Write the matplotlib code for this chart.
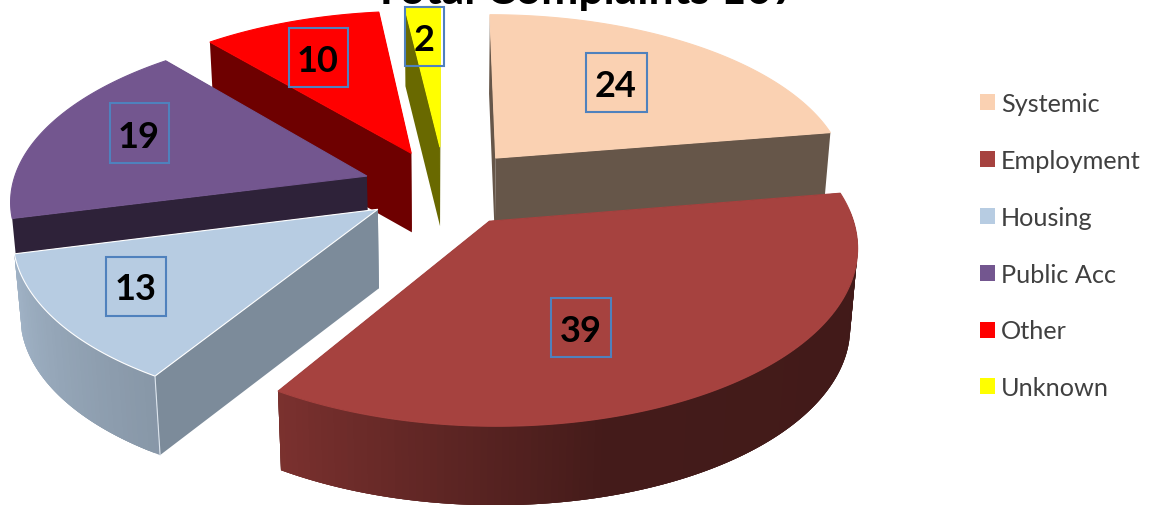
import numpy as np
import matplotlib
matplotlib.use("Agg")
import matplotlib.pyplot as plt
from matplotlib.patches import Patch, Rectangle, Polygon
from matplotlib.colors import to_rgb

categories = ['Systemic', 'Employment', 'Housing', 'Public Acc', 'Other', 'Unknown']
values = [24, 39, 13, 19, 10, 2]
title = 'Total Complaints 107'

# styling per slice
colors = ['#FAD1B2', '#A6423F', '#B7CCE2', '#73568F', '#FF0000', '#FFFF00']
explode = [0.23, 0.23, 0.21, 0.215, 0.23, 0.25]
nudge = [(3, 1), (2, 2), (-2, 2), (-2, 1), (2, 2), (4, 2)]
cut_shade = [0.41, 0.41, 0.68, 0.40, 0.43, 0.41]
label_pos = [(616, 83), (581, 328), (136, 287), (139, 134), (318, 58), (424, 37)]
box_size = [(61, 59), (60, 59), (60, 59), (59, 60), (59, 59), (39, 59)]
draw_order = [5, 4, 0, 3, 2, 1]

# fake 3D projection, everything in pixels
cx, cy = 441, 187
rx, ry = 355, 169
persp = 0.13
depth = 79
shrink = 0.982


def project(u, v, bottom=False, off=(0, 0)):
    s = 1 / (1 - persp * v)
    x = rx * u * s
    y = ry * v * s
    if bottom:
        return cx + off[0] + x * shrink, cy + off[1] + y + depth
    return cx + off[0] + x, cy + off[1] + y


def plane(theta, e, mid):
    # theta clockwise from the top, degrees
    t = np.radians(theta)
    m = np.radians(mid)
    return np.sin(t) + e * np.sin(m), -np.cos(t) - e * np.cos(m)


def shade(c, m):
    return tuple(np.array(to_rgb(c)) * m)


def rim_shade(theta):
    return np.interp(theta, [90, 165, 212, 256], [0.39, 0.41, 0.74, 0.88])


fig = plt.figure(figsize=(11.52, 5.06), dpi=100)
ax = fig.add_axes([0, 0, 1, 1])
ax.set_xlim(0, 1152)
ax.set_ylim(506, 0)
ax.axis('off')

edges = np.concatenate([[0], np.cumsum(values)]) / np.sum(values) * 360

for i in draw_order:
    a0, a1 = edges[i], edges[i + 1]
    mid = (a0 + a1) / 2
    e = explode[i]
    off = nudge[i]
    apex_u = e * np.sin(np.radians(mid))
    apex_v = -e * np.cos(np.radians(mid))

    # the two cut faces
    for a in (a0, a1):
        u, v = plane(a, e, mid)
        c = shade(colors[i], cut_shade[i])
        ax.add_patch(Polygon([project(apex_u, apex_v, off=off), project(u, v, off=off),
                              project(u, v, True, off), project(apex_u, apex_v, True, off)],
                             closed=True, fc=c, ec='none'))

    # outer rim, only the part that faces the viewer, strips overlap to hide seams
    th = np.linspace(a0, a1, int(a1 - a0) + 2)
    front = th[(th >= 85) & (th <= 256)]
    for t0, t1 in zip(front[:-1], front[1:]):
        t2 = min(t1 + 2, front[-1])
        arc = np.linspace(t0, t2, 5)
        u, v = plane(arc, e, mid)
        xt, yt = project(u, v, off=off)
        xb, yb = project(u, v, True, off)
        c = shade(colors[i], rim_shade((t0 + t1) / 2))
        ax.add_patch(Polygon(np.column_stack([np.r_[xt, xb[::-1]], np.r_[yt, yb[::-1]]]),
                             closed=True, fc=c, ec='none'))

    # top face
    uu, vv = plane(th, e, mid)
    xs, ys = project(uu, vv, off=off)
    ax_, ay_ = project(apex_u, apex_v, off=off)
    top = np.column_stack([np.r_[ax_, xs], np.r_[ay_, ys]])
    edge = 'white' if i == 2 else colors[i]
    ax.add_patch(Polygon(top, closed=True, fc=colors[i], ec=edge, lw=0.8))
    if i == 2:
        bx, by = project(uu[0], vv[0], True, off)
        ax.plot([xs[0], bx], [ys[0], by], color='#DDE5EE', lw=0.8)

# value labels in their boxes
for val, (lx, ly), (bw, bh) in zip(values, label_pos, box_size):
    ax.add_patch(Rectangle((lx - bw / 2, ly - bh / 2), bw, bh, fill=False, ec='#4F81BD', lw=1.5))
    ax.text(lx, ly, str(val), ha='center', va='center_baseline', fontsize=26,
            fontweight='bold', family='Lato', color='black')

# title runs off the top edge like the original
ax.text(585, 4, title, ha='center', va='baseline', fontsize=32, fontweight='bold',
        family='Lato', color='black')

handles = [Patch(fc=c, ec='none') for c in colors]
ax.legend(handles, categories, loc='upper left', bbox_to_anchor=(980 / 1152, 1 - 93 / 506),
          frameon=False, prop={'family': 'Lato', 'size': 18.2}, labelcolor='#404040',
          handlelength=0.6, handleheight=0.6, handletextpad=0.22, labelspacing=1.34,
          borderpad=0, borderaxespad=0)

fig.savefig('out.png', dpi=100)
